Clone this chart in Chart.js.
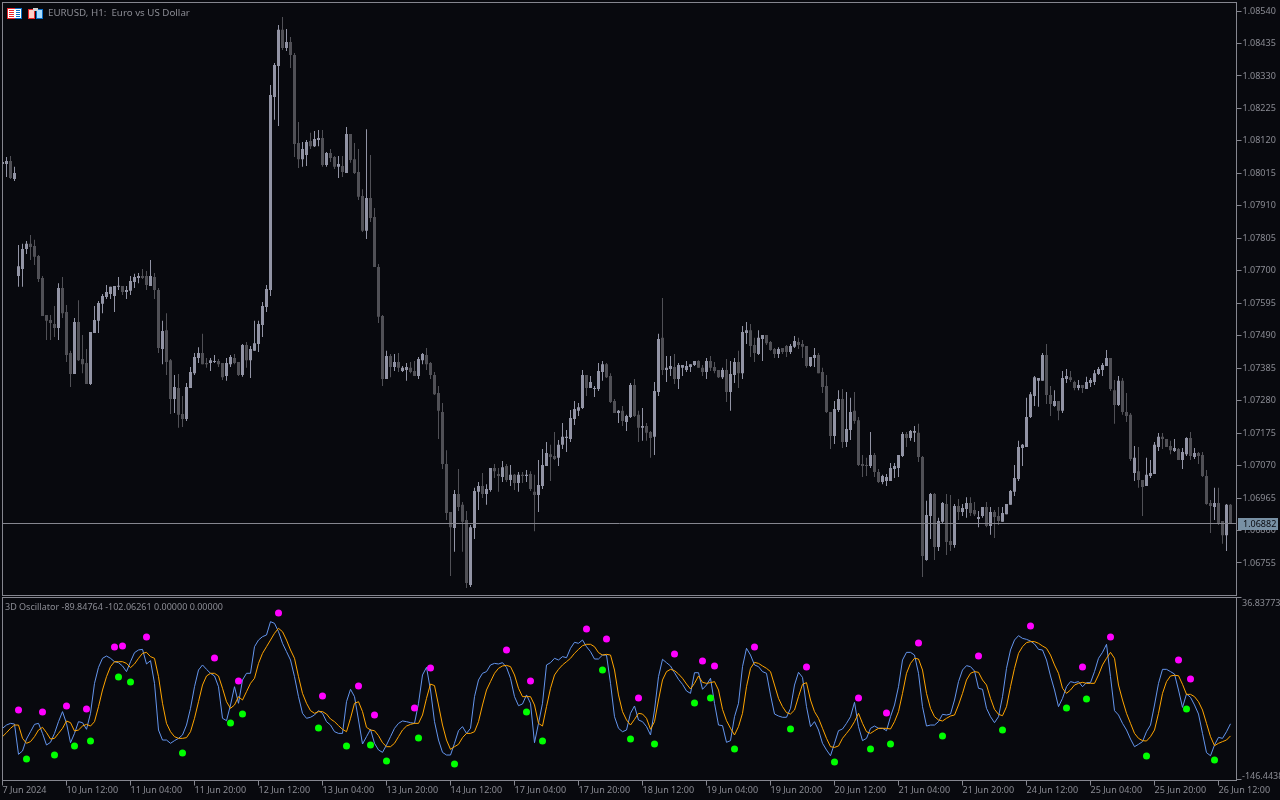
<!DOCTYPE html>
<html>
<head>
<meta charset="utf-8">
<title>EURUSD H1</title>
<script src="https://cdn.jsdelivr.net/npm/chart.js@4/dist/chart.umd.min.js"></script>
<style>
  html, body { margin: 0; padding: 0; background: #08090e; overflow: hidden; }
  canvas { position: absolute; left: 0; }
  #priceChart { top: 0; }
  #oscChart { top: 597px; }
</style>
</head>
<body>
<div style="position:absolute;left:0;top:0;width:1280px;height:597px"><canvas id="priceChart"></canvas></div>
<div style="position:absolute;left:0;top:597px;width:1280px;height:203px"><canvas id="oscChart" style="top:0"></canvas></div>
<script>
// prices are kept in points above 1.00000 (8540 = 1.08540)
const opens = [
8045,8045,8055,7997,7683,7706,7770,7787,7780,7748,
7677,7557,7541,7528,7515,7644,7567,7434,7366,7534,
7415,7402,7334,7499,7538,7593,7615,7625,7618,7648,
7651,7631,7635,7664,7677,7683,7683,7651,7680,7638,
7447,7508,7411,7285,7321,7237,7221,7321,7369,7418,
7434,7402,7402,7405,7408,7402,7360,7398,7418,7405,
7363,7460,7411,7441,7463,7525,7583,7638,8262,8362,
8479,8420,8440,8398,8113,8061,8074,8120,8103,8123,
8129,8042,8081,8068,8036,8039,8016,8142,8061,8019,
7942,7829,7935,7874,7712,7554,7350,7424,7389,7405,
7376,7379,7386,7376,7360,7411,7428,7402,7363,7305,
7243,7075,6920,6868,6978,6943,6894,6684,6868,6985,
7004,6978,6991,7062,7043,7033,7069,7023,7040,7014,
7040,7036,7043,6985,6975,7004,7069,7107,7101,7095,
7137,7159,7156,7221,7247,7256,7363,7321,7318,7318,
7373,7398,7360,7279,7240,7247,7211,7227,7331,7234,
7192,7198,7179,7163,7308,7483,7379,7382,7389,7350,
7386,7379,7389,7395,7408,7386,7373,7408,7389,7379,
7356,7379,7308,7363,7405,7369,7499,7508,7460,7431,
7479,7492,7470,7447,7431,7450,7457,7437,7454,7470,
7463,7457,7392,7418,7428,7373,7327,7243,7166,7250,
7285,7146,7185,7247,7217,7075,7072,7069,7104,7049,
7017,7020,7020,7059,7062,7101,7172,7159,7176,7176,
7098,6765,6907,6978,6807,6888,6946,6826,6813,6939,
6920,6930,6949,6926,6897,6907,6936,6875,6920,6907,
6888,6913,6943,6985,7027,7127,7130,7227,7295,7344,
7344,7428,7298,7263,7279,7247,7350,7356,7340,7321,
7331,7318,7337,7340,7366,7379,7392,7418,7314,7266,
7344,7243,7234,7046,7052,7023,7004,7036,7043,7130,
7163,7156,7133,7117,7124,7088,7107,7159,7098,7111,
7104,7036,6949,6936,6949,6891,6845,6943];
const closes = [
8052,8055,8000,8016,7715,7770,7787,7777,7745,7673,
7554,7538,7531,7515,7644,7563,7428,7366,7534,7411,
7398,7334,7502,7541,7596,7618,7631,7648,7651,7651,
7631,7638,7667,7680,7683,7677,7654,7683,7638,7450,
7505,7405,7285,7324,7234,7221,7324,7373,7421,7434,
7398,7398,7411,7408,7398,7356,7402,7421,7402,7363,
7460,7411,7447,7466,7528,7586,7641,8268,8365,8479,
8420,8440,8398,8110,8061,8094,8116,8103,8126,8129,
8042,8081,8065,8036,8045,8019,8142,8058,8016,7939,
7829,7935,7871,7712,7551,7350,7424,7389,7405,7386,
7386,7389,7373,7360,7415,7431,7398,7363,7301,7247,
7075,6917,6871,6978,6936,6888,6690,6871,6988,7004,
6978,6994,7062,7052,7036,7065,7023,7040,7014,7040,
7036,7040,6994,6975,7007,7072,7111,7098,7091,7137,
7163,7163,7224,7253,7259,7363,7321,7340,7321,7376,
7398,7356,7276,7240,7247,7214,7230,7331,7230,7192,
7198,7176,7159,7311,7479,7379,7386,7392,7350,7395,
7395,7392,7398,7408,7386,7373,7408,7386,7376,7356,
7379,7308,7366,7405,7369,7502,7508,7457,7434,7483,
7492,7466,7444,7431,7447,7437,7437,7457,7473,7460,
7454,7392,7421,7428,7369,7324,7243,7166,7253,7285,
7146,7188,7243,7214,7072,7069,7069,7104,7049,7017,
7036,7033,7062,7069,7104,7172,7159,7182,7182,7098,
6778,6910,6978,6807,6891,6949,6823,6813,6939,6920,
6933,6949,6917,6913,6904,6936,6875,6920,6904,6891,
6917,6946,6988,7030,7130,7137,7227,7301,7356,7353,
7428,7298,7269,7279,7247,7353,7360,7347,7321,7331,
7321,7340,7347,7369,7382,7395,7418,7318,7266,7344,
7243,7230,7091,7095,7023,7001,7040,7046,7137,7163,
7156,7130,7120,7127,7088,7114,7159,7101,7111,7101,
7036,6946,6939,6949,6884,6845,6943,6884];
const highs = [
8058,8068,8071,8036,7783,7787,7796,7816,7800,7751,
7683,7557,7557,7586,7660,7680,7589,7441,7547,7605,
7492,7447,7502,7586,7602,7625,7654,7648,7651,7680,
7651,7651,7683,7690,7693,7706,7699,7735,7693,7644,
7538,7563,7415,7363,7366,7295,7337,7389,7434,7453,
7496,7418,7418,7428,7415,7402,7418,7428,7431,7405,
7463,7470,7457,7538,7538,7599,7654,8301,8372,8495,
8521,8482,8456,8404,8181,8116,8123,8146,8152,8155,
8155,8084,8094,8071,8071,8071,8165,8142,8113,8094,
7964,8158,8074,7903,7722,7557,7441,7431,7431,7434,
7392,7402,7405,7408,7421,7434,7450,7405,7373,7327,
7272,7120,6920,6991,7059,6952,6923,6878,6998,7017,
7046,7010,7062,7075,7062,7085,7075,7072,7043,7049,
7049,7056,7052,7040,7088,7124,7146,7137,7179,7153,
7208,7185,7250,7279,7272,7379,7363,7360,7327,7402,
7408,7402,7369,7285,7250,7263,7234,7337,7350,7247,
7256,7208,7182,7340,7496,7612,7424,7424,7431,7402,
7395,7408,7398,7408,7411,7395,7418,7424,7405,7379,
7386,7415,7408,7418,7441,7521,7534,7528,7483,7508,
7492,7492,7473,7450,7453,7450,7460,7463,7489,7483,
7476,7457,7421,7450,7434,7386,7363,7243,7279,7314,
7318,7308,7289,7308,7227,7104,7095,7179,7111,7059,
7040,7043,7078,7078,7104,7179,7179,7185,7198,7205,
7101,6956,6981,6981,6901,6952,6978,6975,6946,6962,
6946,6968,6968,6952,6923,6936,6952,6936,6926,6936,
6936,6946,6991,7072,7150,7140,7289,7308,7360,7353,
7434,7463,7327,7314,7279,7376,7382,7376,7344,7347,
7331,7357,7353,7379,7389,7402,7444,7418,7347,7360,
7353,7305,7240,7133,7130,7023,7095,7088,7146,7175,
7175,7156,7150,7156,7127,7127,7162,7179,7127,7114,
7114,7056,6959,6998,6998,6891,6946,6946];
const lows = [
8026,8003,7997,7990,7648,7648,7754,7735,7719,7664,
7554,7476,7476,7486,7476,7547,7405,7324,7366,7408,
7369,7334,7331,7499,7499,7563,7609,7609,7567,7638,
7622,7609,7622,7644,7660,7673,7638,7651,7609,7434,
7398,7363,7237,7240,7192,7195,7214,7321,7363,7402,
7398,7386,7376,7402,7389,7347,7344,7389,7398,7360,
7357,7386,7353,7441,7437,7486,7567,7618,8188,8168,
8414,8411,8356,8068,8032,8036,8039,8094,8100,8103,
8036,8036,8052,8029,8000,8003,8016,8049,8013,7929,
7825,7803,7858,7712,7531,7327,7350,7356,7376,7373,
7373,7344,7369,7360,7350,7398,7379,7350,7298,7156,
7059,6894,6713,6791,6923,6791,6674,6677,6833,6926,
6965,6943,6985,7030,6985,7017,7017,7004,6991,6985,
7014,7017,6988,6858,6920,6994,7069,7020,7088,7069,
7124,7114,7146,7201,7230,7253,7295,7321,7292,7311,
7344,7353,7272,7240,7208,7198,7182,7224,7227,7146,
7150,7150,7095,7104,7295,7363,7340,7360,7334,7318,
7360,7373,7373,7392,7386,7360,7350,7376,7369,7353,
7350,7276,7247,7337,7321,7350,7463,7421,7405,7428,
7408,7460,7441,7418,7418,7431,7421,7431,7450,7447,
7418,7386,7389,7389,7369,7305,7240,7124,7140,7243,
7127,7130,7153,7205,7069,7033,7036,7062,7033,7014,
7010,7004,7020,7030,7033,7098,7130,7150,7146,7082,
6710,6762,6833,6765,6794,6884,6781,6794,6804,6894,
6907,6901,6907,6907,6871,6901,6871,6846,6836,6878,
6888,6913,6943,6972,7020,7069,7130,7224,7263,7260,
7344,7269,7230,7260,7217,7240,7337,7340,7314,7314,
7305,7318,7324,7331,7363,7360,7392,7311,7205,7263,
7234,7211,7085,7020,6998,6907,7004,7030,7043,7117,
7124,7130,7107,7114,7088,7059,7101,7088,7091,7075,
7033,6943,6852,6894,6878,6817,6794,6884];
const currentPrice = 6882;
const priceTicks = [8540,8435,8330,8225,8120,8015,7910,7805,7700,7595,7490,7385,7280,7175,7070,6965,6860,6755];

// oscillator pane
const oscMain = [
-94.4,-91.1,-89.4,-90.1,-120.6,-117.2,-105.2,-97.8,-90.4,-89.4,
-99.5,-111.2,-108.5,-99.5,-87.7,-77.6,-89.4,-108.9,-99.5,-87.7,
-88.7,-95.4,-79.3,-49.1,-33,-23.9,-21.6,-23.9,-27.3,-28.3,
-31.6,-37.3,-27.3,-18.2,-15.5,-14.9,-29.6,-26.3,-49.1,-96.1,
-106.2,-106.2,-109.5,-106.8,-104.5,-101.1,-91.1,-74.3,-52.5,-35.7,
-30.6,-35,-39,-41.7,-52.5,-84.3,-86.7,-70.9,-52.5,-69.2,
-45.7,-39,-39,-12.2,-5.5,-2.1,-0.4,13,11.3,2.9,
-8.8,-17.2,-25.6,-42.4,-62.5,-79.3,-84.3,-83.3,-81,-76.6,
-79.3,-87.7,-91.1,-97.8,-99.5,-99.5,-67.6,-55.1,-62.5,-86,
-110.2,-102.8,-95.4,-109.5,-116.2,-118.6,-111.2,-102.8,-94.4,-89.4,
-87,-87.7,-88.7,-89.4,-69.2,-40.7,-33,-55.8,-87.7,-106.2,
-118.6,-121.3,-121.3,-109.5,-96.8,-92.7,-99.5,-94.4,-62.5,-45.7,
-39,-37.3,-30.6,-29,-29.6,-28.3,-33,-44,-62.5,-71.6,
-69.9,-60.8,-69.2,-108.9,-89.4,-69.2,-30.6,-28.3,-23.9,-25.6,
-22.2,-23.3,-13.8,-7.8,-8.8,-5.5,-12.2,-17.2,-24.6,-24.6,
-20.6,-20.6,-49.1,-82.7,-94.4,-97.8,-96.1,-79.3,-71.9,-86,
-87.7,-92.7,-101.1,-76,-42.4,-24.9,-28.3,-31.6,-38.4,-45.1,
-50.1,-56.8,-59.2,-38.4,-38.4,-55.1,-50.8,-44,-69.2,-91.1,
-91.7,-108.5,-106.8,-82.7,-69.2,-32.3,-13.8,-20.6,-30.6,-32.3,
-37.3,-39,-60.8,-80,-82,-83.3,-83.3,-74.3,-50.8,-38,
-43.1,-72.6,-92.7,-87.7,-96.1,-109.5,-116.2,-122,-109.5,-96.8,
-95.1,-89.4,-82.7,-68.2,-92.7,-106.8,-104.5,-94.4,-92.1,-94.4,
-94.4,-96.8,-82.7,-70.9,-52.5,-25.6,-17.9,-17.9,-20.6,-39,
-72.6,-92.1,-91.1,-91.1,-87.7,-80.3,-81,-80,-65.9,-47.4,
-35.7,-31.3,-32.3,-36.7,-54.1,-55.1,-74.3,-82.7,-88.7,-82.7,
-62.5,-34,-15.5,-5.5,-1.1,-3.8,-4.8,-6.5,-9.5,-14.9,
-15.5,-25.6,-41.7,-55.8,-72.6,-64.2,-52.5,-47.4,-48.4,-47.4,
-52.5,-48.4,-48.4,-37.3,-23.9,-17.9,-9.8,-42.4,-76.6,-81,
-89.4,-96.1,-105.2,-112.9,-110.5,-107.8,-97.8,-91.1,-70.9,-49.1,
-35,-35,-37.3,-39.7,-55.8,-73.3,-59.8,-63.2,-70.9,-80,
-99.5,-118.9,-122,-111.2,-103.5,-104.5,-97.8,-89.85];
const oscSignal = [
-102.8,-98.8,-94.4,-91.1,-91.1,-104.5,-109.5,-107.8,-102.8,-96.1,
-93.4,-98.8,-105.2,-104.5,-99.5,-94.4,-87,-88.7,-97.1,-96.1,
-92.1,-90.4,-92.1,-87.7,-72.6,-55.8,-42.4,-32.3,-27.3,-27.3,
-27.3,-29,-33.3,-29.6,-23.9,-18.9,-17.9,-22.2,-23.9,-42.4,
-69.2,-89.4,-97.8,-102.8,-104.5,-104.5,-103.8,-97.8,-84.3,-67.6,
-50.8,-41.7,-39,-39,-41.7,-54.1,-67.6,-74.3,-70.9,-62.5,
-65.9,-57.5,-49.1,-44,-29,-18.9,-12.2,-5.5,1.3,6.3,
2.9,-5.5,-15.5,-23.9,-42.4,-59.2,-69.2,-76.6,-79.3,-77.6,
-77.6,-80,-85,-87.7,-91.7,-95.4,-97.8,-84.3,-69.2,-67.6,
-77.6,-93.4,-96.1,-96.8,-101.8,-108.9,-112.9,-112.9,-109.5,-102.8,
-96.1,-92.1,-90.4,-89.4,-89.4,-81,-64.2,-49.8,-51.4,-70.9,
-91.1,-106.2,-115.6,-112.9,-110.5,-103.8,-99.5,-99.5,-97.8,-87.7,
-70.9,-55.8,-47.4,-39,-34,-31.6,-31,-32.3,-40.7,-54.1,
-62.5,-62.5,-62.5,-70.9,-89.4,-92.1,-72.6,-54.1,-40.7,-35,
-30.6,-27.3,-23.9,-18.9,-14.9,-11.2,-9.8,-9.8,-12.2,-18.2,
-20.6,-19.9,-20.6,-35.7,-60.8,-77.6,-86,-91.1,-85.4,-79.3,
-80,-84.3,-95.4,-87.7,-65.9,-45.7,-37.3,-35,-36.3,-39.7,
-44,-49.8,-54.8,-49.1,-41.7,-48.1,-49.1,-48.4,-47.4,-55.8,
-75.3,-86.7,-94.4,-101.1,-92.7,-79.3,-52.5,-34,-28,-29,
-31.6,-34,-37.3,-50.8,-64.2,-72.6,-78.6,-80,-76,-62.5,
-50.1,-48.4,-65.9,-77.6,-84.3,-94.4,-104.5,-112.9,-113.6,-112.2,
-104.5,-99.5,-94.4,-87.7,-79.3,-89.4,-97.8,-99.5,-96.8,-94.4,
-94.4,-94.4,-95.1,-87.7,-77.6,-59.2,-39,-29,-23.9,-24.6,
-35.7,-59.2,-74.3,-82.7,-86,-87,-84.3,-82,-81,-70.9,
-59.2,-45.7,-39,-37.3,-38,-45.7,-50.8,-64.2,-75.3,-80.3,
-81.7,-72.6,-52.5,-34,-18.9,-12.2,-8.1,-7.1,-7.1,-8.8,
-11.5,-13.8,-20.6,-30.6,-39,-54.1,-59.2,-55.8,-50.8,-49.1,
-48.1,-49.1,-49.1,-49.1,-40.7,-30.6,-23.9,-17.9,-23.9,-50.8,
-65.9,-79.3,-89.4,-99.5,-104.5,-106.8,-107.2,-102.8,-96.1,-79.3,
-59.2,-47.4,-41.7,-41,-41.4,-50.1,-60.2,-60.2,-62.5,-67.6,
-76,-89.4,-102.8,-111.9,-109.5,-107.8,-106.2,-102.06];
const highDotBars = [4,10,16,21,28,30,36,53,59,69,80,89,93,103,107,126,132,146,151,159,168,175,178,188,201,214,221,229,244,257,270,277,294,297];
const highDotValues = [-75.9,-77.9,-71.9,-74.9,-12.5,-11.5,-2.4,-23.6,-46.7,21.8,-61.8,-51.8,-81,-73.9,-33.6,-15.5,-46.7,5.6,-4.4,-63.8,-19.5,-26.6,-31.6,-12.5,-32.6,-63.8,-78.9,-8.5,-21.6,8.7,-32.6,-2.4,-25.6,-44.7];
const lowDotBars = [6,13,18,22,29,32,45,57,60,79,86,92,96,104,113,131,135,150,157,163,173,177,183,197,208,217,222,235,250,266,271,286,296,303];
const lowDotValues = [-125.3,-121.2,-112.2,-107.1,-42.7,-47.7,-119.2,-89,-80,-94.1,-112.2,-111.2,-127.3,-104.1,-130.3,-77.9,-107.1,-35.6,-105.1,-110.2,-68.9,-63.8,-115.2,-95.1,-128.3,-115.2,-110.2,-102.1,-96.1,-73.9,-64.8,-122.2,-74.9,-126.3];
const oscTicks = [36.83773, -146.4438];
const timeLabels = ['7 Jun 2024','10 Jun 12:00','11 Jun 04:00','11 Jun 20:00','12 Jun 12:00','13 Jun 04:00','13 Jun 20:00','14 Jun 12:00','17 Jun 04:00','17 Jun 20:00','18 Jun 12:00','19 Jun 04:00','19 Jun 20:00','20 Jun 12:00','21 Jun 04:00','21 Jun 20:00','24 Jun 12:00','25 Jun 04:00','25 Jun 20:00','26 Jun 12:00'];
const chartTitle = 'EURUSD, H1:  Euro vs US Dollar';
const oscTitle = '3D Oscillator -89.84764 -102.06261 0.00000 0.00000';

const barsPerLabel = 16;
const lastX = 308.5;
const textColor = '#8b8c94';
const frameColor = '#85868f';
const upColor = '#9294a5';
const downColor = '#505056';
const labelFont = '9px "Noto Sans"';

function priceText(v) { return (1 + v / 100000).toFixed(5); }
function bar(i, a, b) { return { x: i, y: [a, b] }; }
function candleColor(ctx) {
  const i = ctx.dataIndex;
  return closes[i] >= opens[i] ? upColor : downColor;
}

// frame round the plot area
const framePlugin = {
  id: 'frame',
  afterDraw(chart) {
    const a = chart.chartArea, c = chart.ctx;
    c.save();
    c.strokeStyle = frameColor;
    c.lineWidth = 1;
    c.strokeRect(a.left, a.top, a.right - a.left, a.bottom - a.top);
    c.restore();
  }
};

// header, icons, current price line and its box
const pricePlugin = {
  id: 'priceExtras',
  afterDatasetsDraw(chart) {
    const a = chart.chartArea, c = chart.ctx;
    const y = Math.floor(chart.scales.y.getPixelForValue(currentPrice)) + 0.5;
    c.save();
    c.strokeStyle = frameColor;
    c.beginPath(); c.moveTo(a.left, y); c.lineTo(a.right, y); c.stroke();
    c.restore();
  },
  afterDraw(chart) {
    const c = chart.ctx;
    const y = Math.floor(chart.scales.y.getPixelForValue(currentPrice));
    c.save();
    c.fillStyle = '#7890a4';
    c.fillRect(1238, y - 5, 40, 12);
    c.fillStyle = '#08090e';
    c.font = labelFont;
    c.textBaseline = 'middle';
    c.fillText(priceText(currentPrice), 1243, y + 1);

    c.fillStyle = textColor;
    c.font = '9.75px "Noto Sans"';
    c.fillText(chartTitle, 48, 13.5);

    // left icon
    c.fillStyle = '#e8262a'; c.fillRect(7, 8, 8, 11);
    c.fillStyle = '#0a6cc4'; c.fillRect(15, 8, 7, 11);
    c.fillStyle = '#ffffff'; c.fillRect(8, 9, 13, 9);
    c.fillStyle = '#e8262a';
    [10, 12, 14, 16].forEach(v => c.fillRect(9, v, 5, 1));
    c.fillStyle = '#0a6cc4';
    [10, 12, 14, 16].forEach(v => c.fillRect(16, v, 4, 1));
    // right icon
    c.fillStyle = '#e8262a'; c.fillRect(28, 9, 7, 10);
    c.fillStyle = '#0a6cc4'; c.fillRect(36, 9, 7, 10);
    c.fillStyle = '#ffd0c8'; c.fillRect(29, 10, 5, 8);
    c.fillStyle = '#a8dcff'; c.fillRect(37, 10, 5, 8);
    c.fillStyle = '#d0d0d0'; c.fillRect(33, 8, 5, 3);
    c.restore();
  }
};

const oscPlugin = {
  id: 'oscExtras',
  afterDraw(chart) {
    const c = chart.ctx, s = chart.scales.y;
    c.save();
    c.font = labelFont;
    c.fillStyle = textColor;
    c.textBaseline = 'middle';
    c.fillText(oscTitle, 5, 10);
    c.fillText(oscTicks[0].toFixed(5), 1242, s.getPixelForValue(oscTicks[0]) + 5.5);
    c.fillText(oscTicks[1].toFixed(4), 1242, s.getPixelForValue(oscTicks[1]) - 4);
    c.restore();
  }
};

function sizeCanvas(id, h) {
  const el = document.getElementById(id);
  el.parentNode.style.height = h + 'px';
  return el;
}

new Chart(sizeCanvas('priceChart', 597), {
  type: 'bar',
  data: {
    datasets: [
      {
        label: 'body',
        data: opens.map((o, i) => bar(i, o, closes[i])),
        backgroundColor: candleColor,
        barThickness: 3,
        minBarLength: 1,
        inflateAmount: 0,
        borderWidth: 0,
        order: 1
      },
      {
        label: 'wick',
        data: lows.map((l, i) => bar(i, l, highs[i])),
        backgroundColor: candleColor,
        barThickness: 1,
        inflateAmount: 0,
        borderWidth: 0,
        order: 2
      }
    ]
  },
  options: {
    responsive: true,
    maintainAspectRatio: false,
    animation: false,
    events: [],
    layout: { autoPadding: false, padding: { left: 2.5, top: 2.5, right: 0, bottom: 1.5 } },
    plugins: { legend: { display: false }, title: { display: false }, tooltip: { enabled: false } },
    datasets: { bar: { grouped: false } },
    scales: {
      x: { type: 'linear', display: false, min: 0, max: lastX, offset: false, grid: { offset: false } },
      y: {
        position: 'right',
        min: 6649.9,
        max: 8567.5,
        afterBuildTicks(scale) { scale.ticks = priceTicks.map(v => ({ value: v })); },
        afterFit(scale) { scale.width = 43.5; scale.paddingTop = 0; scale.paddingBottom = 0; },
        border: { display: false },
        grid: { drawOnChartArea: false, tickLength: 5, tickColor: frameColor },
        ticks: {
          autoSkip: false,
          padding: 1,
          color: textColor,
          font: { family: 'Noto Sans', size: 9 },
          callback: v => priceText(v)
        }
      }
    }
  },
  plugins: [framePlugin, pricePlugin]
});

new Chart(sizeCanvas('oscChart', 203), {
  type: 'line',
  data: {
    datasets: [
      {
        label: 'high dots',
        type: 'scatter',
        data: highDotBars.map((b, i) => ({ x: b, y: highDotValues[i] })),
        backgroundColor: '#ff00ff',
        pointRadius: 3.5,
        pointBorderWidth: 0,
        order: 1
      },
      {
        label: 'low dots',
        type: 'scatter',
        data: lowDotBars.map((b, i) => ({ x: b, y: lowDotValues[i] })),
        backgroundColor: '#00ff00',
        pointRadius: 3.5,
        pointBorderWidth: 0,
        order: 2
      },
      {
        label: 'signal',
        data: oscSignal.map((v, i) => ({ x: i, y: v })),
        borderColor: '#ffa500',
        borderWidth: 1,
        pointRadius: 0,
        tension: 0,
        order: 3
      },
      {
        label: 'main',
        data: oscMain.map((v, i) => ({ x: i, y: v })),
        borderColor: '#6495ed',
        borderWidth: 1,
        pointRadius: 0,
        tension: 0,
        order: 4
      }
    ]
  },
  options: {
    responsive: true,
    maintainAspectRatio: false,
    animation: false,
    events: [],
    layout: { autoPadding: false, padding: { left: 2.5, top: 0.5, right: 0, bottom: 0 } },
    plugins: { legend: { display: false }, title: { display: false }, tooltip: { enabled: false } },
    scales: {
      x: {
        type: 'linear',
        position: 'bottom',
        min: 0,
        max: lastX,
        afterFit(scale) { scale.height = 19.5; scale.paddingLeft = 0; scale.paddingRight = 0; },
        border: { display: false },
        grid: { drawOnChartArea: false, tickLength: 5, tickColor: frameColor },
        ticks: {
          stepSize: barsPerLabel,
          includeBounds: false,
          autoSkip: false,
          maxRotation: 0,
          align: 'start',
          padding: 0,
          color: textColor,
          font: { family: 'Noto Sans', size: 9 },
          callback: v => timeLabels[v / barsPerLabel]
        }
      },
      y: {
        position: 'right',
        min: -146.95,
        max: 37.34,
        afterBuildTicks(scale) { scale.ticks = oscTicks.map(v => ({ value: v })); },
        afterFit(scale) { scale.width = 43.5; scale.paddingTop = 0; scale.paddingBottom = 0; },
        border: { display: false },
        grid: { drawOnChartArea: false, tickLength: 5, tickColor: frameColor },
        ticks: { display: false }
      }
    }
  },
  plugins: [framePlugin, oscPlugin]
});
</script>
</body>
</html>
